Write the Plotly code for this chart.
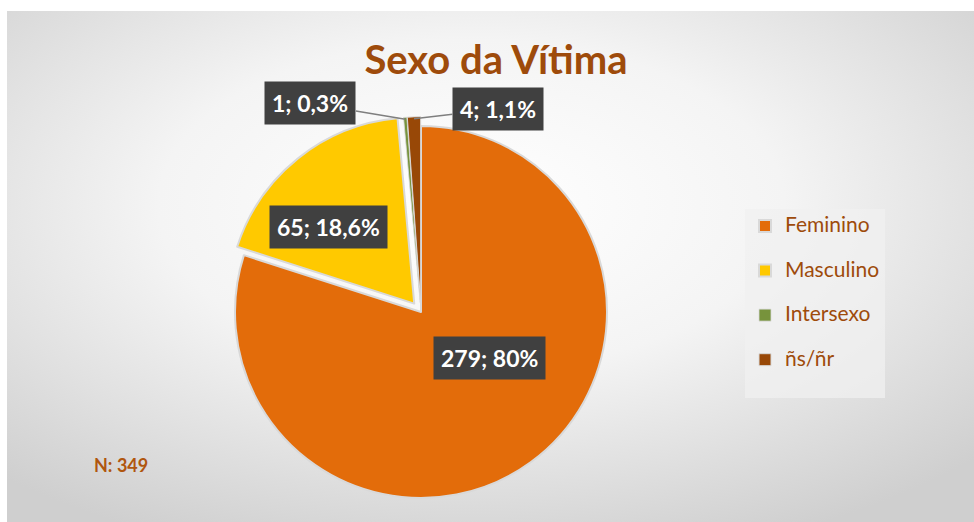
import base64
import math
import plotly.graph_objects as go

# dados
categorias = ['Feminino', 'Masculino', 'Intersexo', 'ñs/ñr']
valores = [279, 65, 1, 4]
rotulos = ['279; 80%', '65; 18,6%', '1; 0,3%', '4; 1,1%']
cores = ['#E36C0A', '#FFC900', '#77933C', '#984807']
destaque = [0, 0.058, 0.05, 0.05]

W, H = 974, 522
MARROM = '#9E4B0B'
FONTE = 'Lato, "Open Sans", sans-serif'

# geometria da pizza (px)
cx_px, cy_px, r_px = 421, 312, 186
meio = r_px * (1 + max(destaque))
dom_x = [(cx_px - meio) / W, (cx_px + meio) / W]
dom_y = [1 - (cy_px + meio) / H, 1 - (cy_px - meio) / H]

# fundo com gradiente radial (svg)
svg = (
    '<svg xmlns="http://www.w3.org/2000/svg" width="967" height="511" '
    'preserveAspectRatio="none" viewBox="0 0 967 511">'
    '<defs><radialGradient id="g" cx="0.48" cy="0.38" r="0.72">'
    '<stop offset="0" stop-color="#ffffff"/>'
    '<stop offset="0.45" stop-color="#f4f4f4"/>'
    '<stop offset="1" stop-color="#cfcfcf"/></radialGradient></defs>'
    '<rect width="967" height="511" fill="url(#g)"/></svg>'
)
fundo = 'data:image/svg+xml;base64,' + base64.b64encode(svg.encode()).decode()

# legenda: texto maior que a altura de linha usada no espaçamento
legenda = ['<span style="font-size:21px">' + c + '</span><br> ' for c in categorias]

fig = go.Figure(go.Pie(
    labels=legenda,
    values=valores,
    sort=False,
    direction='clockwise',
    rotation=0,
    pull=destaque,
    marker=dict(colors=cores, line=dict(color='#d9d9d9', width=[2, 2, 0.8, 1])),
    textinfo='none',
    hoverinfo='value+percent',
    domain=dict(x=dom_x, y=dom_y),
))

# rótulos em caixas escuras
total = sum(valores)
acum = 0
posicoes = {0: (489, 358), 1: (328, 227)}
deslocamento = {2: (-95, -16), 3: (84, -10)}
anots = []
for i, v in enumerate(valores):
    ang = math.radians((acum + v / 2) / total * 360)
    acum += v
    base = dict(text='<b>' + rotulos[i] + '</b>', bgcolor='#404040', borderpad=7,
                font=dict(family=FONTE, size=23, color='white'),
                xref='paper', yref='paper', xanchor='center', yanchor='middle')
    if i in posicoes:
        px_, py_ = posicoes[i]
        anots.append(dict(base, x=px_ / W, y=1 - py_ / H, showarrow=False))
    else:
        rr = r_px * (1 + destaque[i]) - 2
        tx = cx_px + rr * math.sin(ang)
        ty = cy_px - rr * math.cos(ang)
        ax, ay = deslocamento[i]
        anots.append(dict(base, x=tx / W, y=1 - ty / H, showarrow=True,
                          arrowhead=0, arrowwidth=1.5, arrowcolor='#7f7f7f',
                          ax=ax, ay=ay))

anots.append(dict(text='<b>N: 349</b>', x=92 / W, y=1 - 465 / H, xref='paper', yref='paper',
                  xanchor='left', yanchor='middle', showarrow=False,
                  font=dict(family=FONTE, size=18, color='#B0560E')))

fig.update_layout(
    width=W, height=H,
    margin=dict(l=0, r=0, t=0, b=0),
    paper_bgcolor='white',
    title=dict(text='<b>Sexo da Vítima</b>', x=496 / W, xanchor='center',
               y=1 - 60 / H, yanchor='middle',
               font=dict(family=FONTE, size=40, color=MARROM)),
    legend=dict(x=745 / W, y=1 - 209 / H, xanchor='left', yanchor='top',
                bgcolor='rgba(240,240,240,0.75)', borderwidth=0,
                font=dict(family=FONTE, size=16, color=MARROM),
                valign='top', itemwidth=30),
    annotations=anots,
    images=[dict(source=fundo, xref='paper', yref='paper', x=7 / W, y=1 - 11 / H,
                 sizex=1 - 7 / W, sizey=1 - 11 / H, sizing='stretch',
                 xanchor='left', yanchor='top', layer='below')],
    showlegend=True,
)

fig.write_html('out.html', config={'displayModeBar': False},
               post_script="document.body.style.margin='0';")
